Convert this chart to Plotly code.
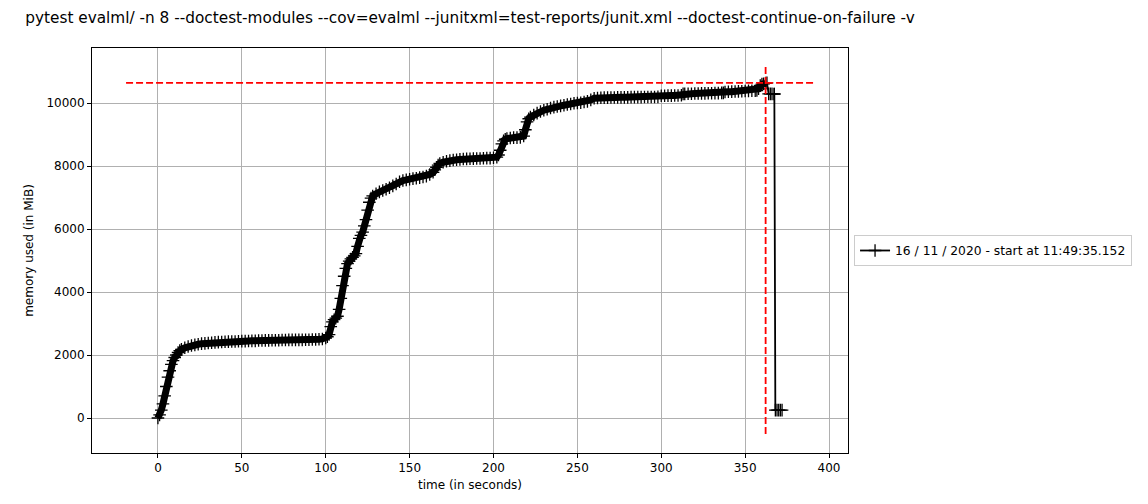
import plotly.graph_objects as go

TITLE = "pytest evalml/ -n 8 --doctest-modules --cov=evalml --junitxml=test-reports/junit.xml --doctest-continue-on-failure -v"
SERIES_NAME = "16 / 11 / 2020 - start at 11:49:35.152"

time_s = [0, 1, 2, 3, 4, 5, 6, 7, 8, 9, 10, 11, 12, 13, 14, 16, 18, 20, 22, 24, 26, 28, 30,
          32, 34, 36, 38, 40, 42, 44, 46, 48, 50, 52, 54, 56, 58, 60, 62, 64, 66, 68, 70,
          72, 74, 76, 78, 80, 82, 84, 86, 88, 90, 92, 94, 96, 98, 100, 101, 102, 103, 104,
          105, 106, 107, 108, 109, 110, 111, 112, 113, 114, 115, 116, 117, 118, 119, 120,
          121, 122, 123, 124, 125, 126, 127, 128, 130, 132, 134, 136, 138, 140, 142, 144,
          146, 148, 150, 152, 154, 156, 158, 160, 162, 164, 165, 166, 167, 168, 170, 172,
          174, 176, 178, 180, 182, 184, 186, 188, 190, 192, 194, 196, 198, 200, 202, 203,
          204, 205, 206, 207, 208, 210, 212, 214, 216, 218, 219, 220, 221, 222, 224, 226,
          228, 230, 232, 234, 236, 238, 240, 242, 244, 246, 248, 250, 252, 254, 256, 258,
          260, 262, 264, 266, 268, 270, 272, 274, 276, 278, 280, 282, 284, 286, 288, 290,
          292, 294, 296, 298, 300, 302, 304, 306, 308, 310, 312, 313, 314, 316, 318, 320,
          322, 324, 326, 328, 330, 332, 334, 336, 337, 338, 340, 342, 344, 346, 348, 350,
          352, 354, 356, 357, 358, 359, 360, 361, 362.2, 363, 364, 365, 366, 367.2, 367.4,
          368, 369, 370, 371, 372]
mem_mib = [0, 100, 250, 450, 700, 1000, 1300, 1500, 1700, 1820, 1920, 2000, 2080, 2140, 2180,
           2230, 2270, 2300, 2320, 2340, 2360, 2370, 2380, 2390, 2400, 2410, 2415, 2420, 2425,
           2430, 2430, 2435, 2440, 2440, 2445, 2450, 2450, 2460, 2460, 2465, 2465, 2470, 2470,
           2470, 2475, 2475, 2480, 2480, 2480, 2480, 2480, 2485, 2485, 2490, 2490, 2500, 2510,
           2540, 2580, 2650, 2900, 3050, 3120, 3170, 3230, 3450, 3800, 4200, 4500, 4750, 4900,
           4980, 5050, 5100, 5150, 5220, 5450, 5700, 5800, 5900, 6100, 6300, 6600, 6850, 6980,
           7050, 7120, 7180, 7220, 7260, 7310, 7370, 7430, 7500, 7540, 7560, 7580, 7600, 7610,
           7630, 7650, 7680, 7730, 7800, 7880, 7960, 8030, 8080, 8120, 8150, 8170, 8190, 8200,
           8210, 8220, 8225, 8230, 8235, 8240, 8240, 8245, 8250, 8250, 8260, 8280, 8350, 8500,
           8700, 8800, 8850, 8870, 8890, 8900, 8900, 8910, 8950, 9150, 9400, 9500, 9550, 9620,
           9680, 9730, 9770, 9800, 9840, 9870, 9890, 9910, 9930, 9950, 9970, 9990, 10000,
           10010, 10030, 10050, 10100, 10150, 10160, 10165, 10170, 10170, 10175, 10175, 10180,
           10180, 10180, 10180, 10185, 10185, 10185, 10185, 10190, 10190, 10190, 10190, 10195,
           10230, 10230, 10235, 10235, 10240, 10240, 10245, 10290, 10290, 10295, 10295, 10300,
           10300, 10305, 10305, 10310, 10310, 10315, 10315, 10320, 10320, 10350, 10355, 10360,
           10365, 10370, 10375, 10380, 10385, 10390, 10390, 10395, 10450, 10550, 10600, 10610,
           10630, 10640, 10290, 10290, 10290, 10285, 10285, 250, 250, 250, 250, 250, 250]

# peak-memory guide lines
peak_mem = [10640, 10640]
peak_mem_x = [-19, 391]
peak_time = [362.2, 362.2]
peak_time_y = [-510, 11180]

x_ticks = [0, 50, 100, 150, 200, 250, 300, 350, 400]
y_ticks = [0, 2000, 4000, 6000, 8000, 10000]
y_tick_text = ["0", "2000", "4000", "6000", "8000", "10000"]

FONT = "DejaVu Sans"

# the dense sampling of the original renders as a solid band up to the peak
n_dense = time_s.index(362.2) + 1

fig = go.Figure()
fig.add_trace(go.Scatter(
    x=time_s[:n_dense], y=mem_mib[:n_dense], mode="lines", showlegend=False,
    hoverinfo="skip", line=dict(color="black", width=7),
))
fig.add_trace(go.Scatter(
    x=time_s, y=mem_mib, mode="lines+markers", name=SERIES_NAME,
    line=dict(color="black", width=1.8),
    marker=dict(symbol="cross-thin", size=9, color="black",
                line=dict(color="black", width=1.3)),
))
fig.add_trace(go.Scatter(
    x=peak_mem_x, y=peak_mem, mode="lines", showlegend=False, hoverinfo="skip",
    line=dict(color="red", width=1.8, dash="7px,3px"),
))
fig.add_trace(go.Scatter(
    x=peak_time, y=peak_time_y, mode="lines", showlegend=False, hoverinfo="skip",
    line=dict(color="red", width=1.8, dash="7px,3px"),
))

axis_common = dict(
    showgrid=True, gridcolor="#b0b0b0", gridwidth=1,
    zeroline=False, showline=True, mirror=True, linecolor="black", linewidth=1,
    ticks="outside", ticklen=4, tickcolor="black", tickwidth=1,
    tickfont=dict(family=FONT, size=12, color="black"),
)

fig.update_layout(
    width=1148, height=504,
    margin=dict(l=92, r=300, t=48, b=51),
    paper_bgcolor="white", plot_bgcolor="white",
    font=dict(family=FONT, size=12, color="black"),
    title=dict(text=TITLE, x=0.5, xref="paper", xanchor="center",
               y=1 - 18 / 504, yref="container", yanchor="middle",
               font=dict(family=FONT, size=15.3, color="black")),
    xaxis=dict(range=[-39.3, 411.3], tickvals=x_ticks,
               title=dict(text="time (in seconds)", font=dict(family=FONT, size=12), standoff=6),
               **axis_common),
    yaxis=dict(range=[-1111, 11746], tickvals=y_ticks, ticktext=y_tick_text,
               title=dict(text="memory used (in MiB)", font=dict(family=FONT, size=12), standoff=10),
               **axis_common),
    legend=dict(x=1.008, xanchor="left", y=0.5, yanchor="middle",
                bordercolor="#cccccc", borderwidth=1, bgcolor="white",
                font=dict(family=FONT, size=12.3, color="black")),
    showlegend=True,
)

fig.write_html("out.html")
